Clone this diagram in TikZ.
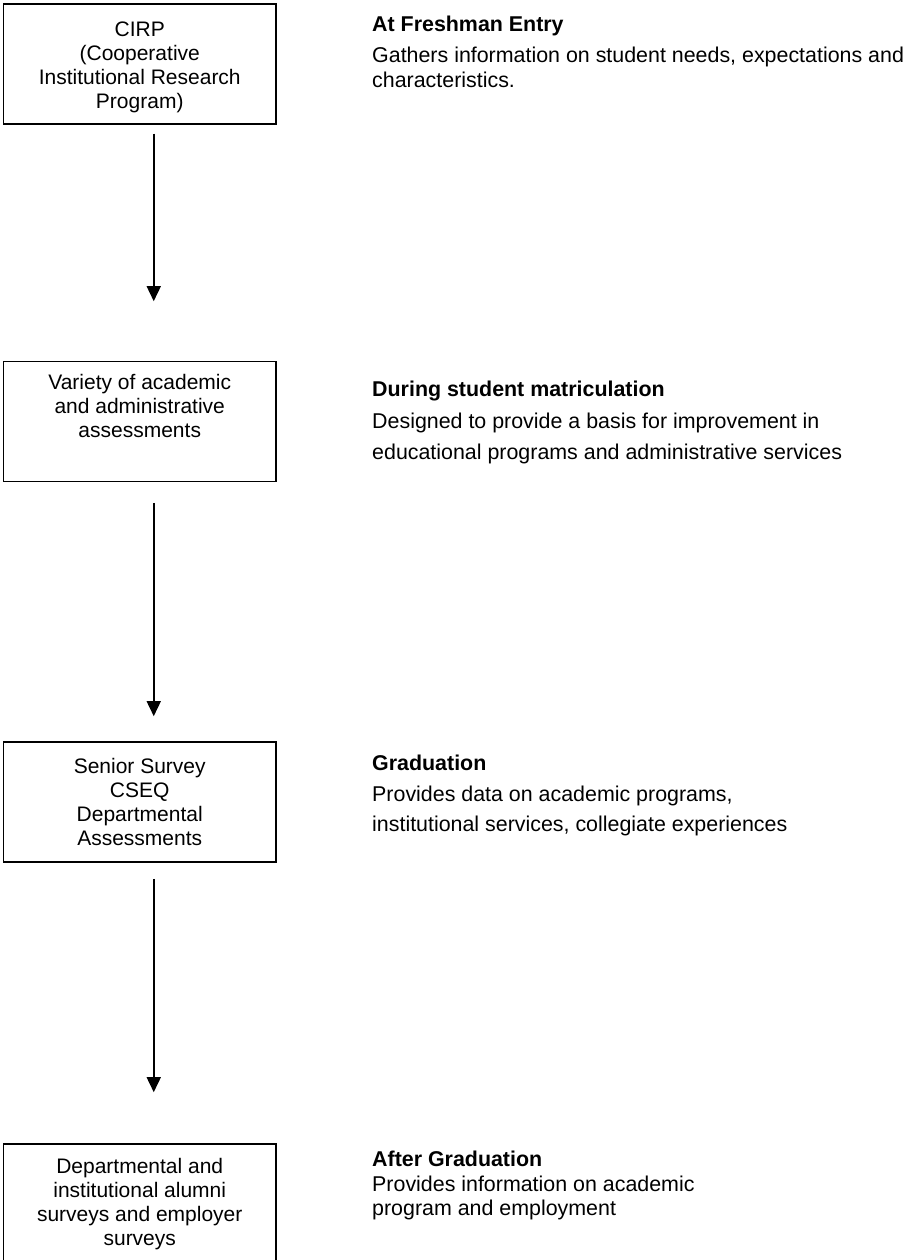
\documentclass[tikz,border=0pt]{standalone}
\usepackage{fontspec}
\setmainfont{Liberation Sans}
\usepackage{tikz}
\usetikzlibrary{arrows.meta}
\tikzset{stage/.style={draw,line width=1.6pt,minimum width=272.5pt,minimum height=120pt,align=center,inner sep=0pt,font=\fontsize{21}{24}\selectfont}}
\tikzset{heading/.style={anchor=base west,inner sep=0pt,font=\fontsize{21.4}{24}\selectfont\bfseries}}
\tikzset{blurb/.style={anchor=base west,inner sep=0pt,align=left,font=\fontsize{21.4}{#1}\selectfont}}
\tikzset{flow/.style={->,line width=1.6pt}}

\begin{document}
\begin{tikzpicture}[x=1pt,y=-1pt,>={Triangle[width=14pt,length=15pt]}]
    \useasboundingbox[fill=white] (0,0) rectangle (908,1260);

    \node[stage] (cirp)at (139.75,63.75) {\rule{0pt}{22pt}CIRP\\(Cooperative\\Institutional Research\\Program)};
    \node[stage] (variety)at (139.75,421.5) {Variety of academic\\and administrative\\assessments\\\strut};
    \node[stage] (senior)at (139.75,802) {Senior Survey\\CSEQ\\Departmental\\Assessments};
    \node[stage] (alumni)at (139.75,1204) {Departmental and\\institutional alumni\\surveys and employer\\surveys};

    % headings at first baseline, blurbs anchored at their last baseline
    \node[heading] (entry)at (372,31.7) {At Freshman Entry};
    \node[blurb=24.6] (entrytxt)at (372,87.3) {Gathers information on student needs, expectations and\\characteristics.};
    \node[heading] (matric)at (372,396.7) {During student matriculation};
    \node[blurb=30.7] (matrictxt)at (372,459) {Designed to provide a basis for improvement in\\educational programs and administrative services};
    \node[heading] (grad)at (372,770) {Graduation};
    \node[blurb=30] (gradtxt)at (372,831.7) {Provides data on academic programs,\\institutional services, collegiate experiences};
    \node[heading] (after)at (372,1166) {After Graduation};
    \node[blurb=23.3] (aftertxt)at (372,1215) {Provides information on academic\\program and employment};

    \draw [flow,shorten <=9pt,shorten >=59.5pt] ([xshift=14pt]cirp.south) to ([xshift=14pt]variety.north);
    \draw [flow,shorten <=20.5pt,shorten >=25pt] ([xshift=14pt]variety.south) to ([xshift=14pt]senior.north);
    \draw [flow,shorten <=16pt,shorten >=51pt] ([xshift=14pt]senior.south) to ([xshift=14pt]alumni.north);
\end{tikzpicture}
\end{document}
